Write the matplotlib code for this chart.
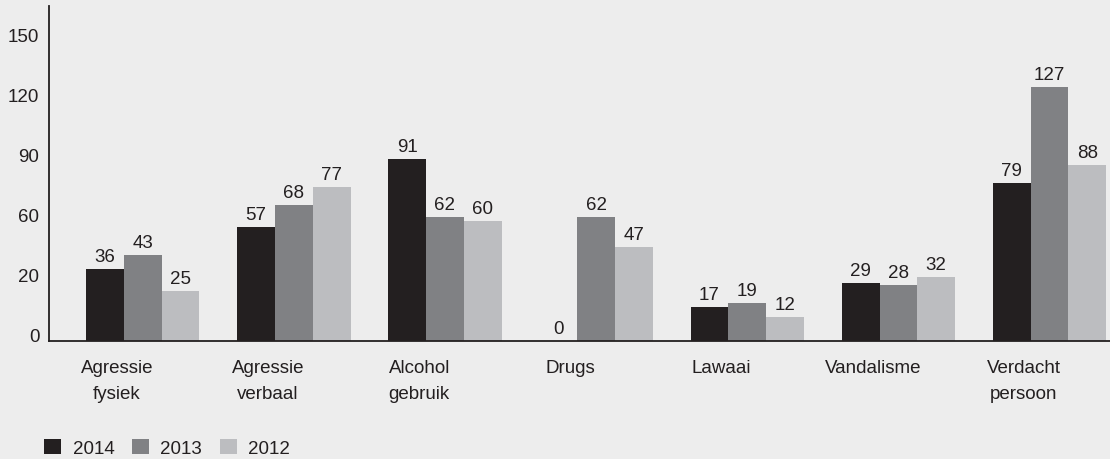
import numpy as np
import matplotlib
matplotlib.use("Agg")
import matplotlib.pyplot as plt
from matplotlib.transforms import ScaledTranslation

categories = ["Agressie\nfysiek", "Agressie\nverbaal", "Alcohol\ngebruik", "Drugs",
              "Lawaai", "Vandalisme", "Verdacht\npersoon"]
years = ["2014", "2013", "2012"]
v2014 = [36, 57, 91, 0, 17, 29, 79]
v2013 = [43, 68, 62, 62, 19, 28, 127]
v2012 = [25, 77, 60, 47, 12, 32, 88]
ytick_pos = [0, 30, 60, 90, 120, 150]
ytick_labels = ["0", "20", "60", "90", "120", "150"]

colors = ["#231f20", "#808184", "#bcbdc0"]
bg = "#ededed"
ink = "#231f20"

plt.rcParams["font.family"] = ["Liberation Sans", "DejaVu Sans"]

fig = plt.figure(figsize=(11.1, 4.6), dpi=100, facecolor=bg)
ax = fig.add_axes([49 / 1110, 118 / 460, 1 - 49 / 1110, (342 - 7) / 460])
ax.set_facecolor(bg)

x = np.arange(len(categories))
w = 0.25
for i, (vals, yr) in enumerate(zip([v2014, v2013, v2012], years)):
    bars = ax.bar(x + (i - 1) * w, vals, w, color=colors[i], label=yr)
    for b, v in zip(bars, vals):
        ax.annotate(str(v), (b.get_x() + b.get_width() / 2, v),
                    xytext=(0, 3), textcoords="offset points",
                    ha="center", va="bottom", fontsize=13.5, color=ink)

ax.set_xlim(-0.62, 6.40)
ax.set_ylim(0, 167.5)
ax.set_yticks(ytick_pos)
ax.set_yticklabels(ytick_labels)
ax.set_xticks(x - 0.17)
ax.set_xticklabels(categories, linespacing=1.65)
ax.tick_params(axis="y", length=0, pad=7, labelsize=13.5, labelcolor=ink)
ax.tick_params(axis="x", length=0, pad=13, labelsize=13.5, labelcolor=ink)
for lab in ax.get_yticklabels():
    lab.set_transform(lab.get_transform() + ScaledTranslation(0, 5 / 72, fig.dpi_scale_trans))

for s in ["top", "right"]:
    ax.spines[s].set_visible(False)
for s in ["left", "bottom"]:
    ax.spines[s].set_color(ink)
    ax.spines[s].set_linewidth(1.3)

fig.legend(loc="center left", bbox_to_anchor=(35 / 1110, 11 / 460), ncol=3,
           frameon=False, fontsize=13.5, handlelength=0.9, handleheight=0.9,
           handletextpad=0.6, columnspacing=0.95, borderpad=0, labelcolor=ink)

fig.savefig("out.png", dpi=100, facecolor=bg)
